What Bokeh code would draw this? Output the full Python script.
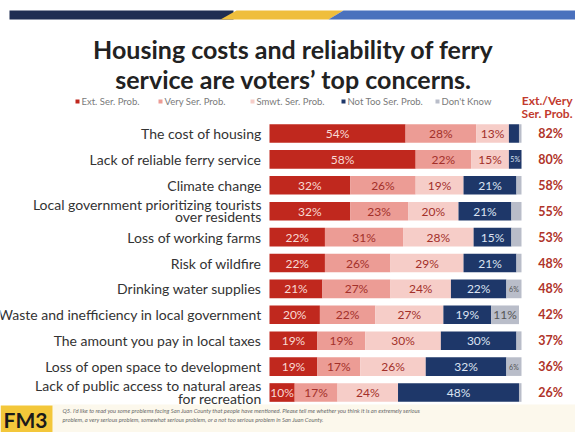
from bokeh.plotting import figure
from bokeh.models import Range1d, ColumnDataSource
from bokeh.core.properties import value
from bokeh.embed import file_html
from bokeh.resources import INLINE

# ---------------- data ----------------
categories = [
    "The cost of housing",
    "Lack of reliable ferry service",
    "Climate change",
    "Local government prioritizing tourists\nover residents",
    "Loss of working farms",
    "Risk of wildfire",
    "Drinking water supplies",
    "Waste and inefficiency in local government",
    "The amount you pay in local taxes",
    "Loss of open space to development",
    "Lack of public access to natural areas\nfor recreation",
]
ext_serious = [54, 58, 32, 32, 22, 22, 21, 20, 19, 19, 10]
very_serious = [28, 22, 26, 23, 31, 26, 27, 22, 19, 17, 17]
smwt_serious = [13, 15, 19, 20, 28, 29, 24, 27, 30, 26, 24]
not_too_serious = [4, 5, 21, 21, 15, 21, 22, 19, 30, 32, 48]
dont_know = [1, 0, 2, 4, 4, 2, 6, 11, 2, 6, 1]
ext_very_total = [82, 80, 58, 55, 53, 48, 48, 42, 37, 36, 26]
series_names = ["Ext. Ser. Prob.", "Very Ser. Prob.", "Smwt. Ser. Prob.",
                "Not Too Ser. Prob.", "Don't Know"]
total_header = ["Ext./Very", "Ser. Prob."]
title_lines = ["Housing costs and reliability of ferry",
               "service are voters\u2019 top concerns."]
footnote_lines = [
    "Q5. I'd like to read you some problems facing San Juan County that people have mentioned. Please tell me whether you think it is an extremely serious",
    "problem, a very serious problem, somewhat serious problem, or a not too serious problem in San Juan County.",
]

# ---------------- styles ----------------
series_colors = ["#C0281E", "#EC9C95", "#F6CDC8", "#1E3769", "#B9BDC9"]
label_colors = ["#F8DAD4", "#A3302A", "#A3302A", "#DCE3F2", "#555555"]
FONT = value("Lato")
W, H = 575, 432
X0, SX = 269.0, 2.52     # px of 0 %, px per %
Y0, SY = 133.0, 25.9     # px of first row, px per row


def dx(px):
    return (px - X0) / SX


def dy(py):
    return (py - Y0) / SY


p = figure(width=W, height=H, output_backend="svg", toolbar_location=None,
           x_axis_type=None, y_axis_type=None,
           x_range=Range1d(dx(0), dx(W)), y_range=Range1d(dy(H), dy(0)),
           min_border=0, background_fill_color="white",
           border_fill_color="white")
p.outline_line_color = None
p.grid.visible = False

n = len(categories)
rows = list(range(n))
series = [ext_serious, very_serious, smwt_serious, not_too_serious, dont_know]

# stacked bars
lefts = [0.0] * n
for k, vals in enumerate(series):
    rights = [l + v for l, v in zip(lefts, vals)]
    src = ColumnDataSource(dict(y=rows, left=lefts, right=rights))
    p.hbar(y="y", left="left", right="right", height=0.72, source=src,
           fill_color=series_colors[k], line_color=None)
    big = dict(x=[], y=[], t=[])
    small = dict(x=[], y=[], t=[])
    for i in rows:
        v = vals[i]
        if v < 5:
            continue
        if k == 3 and i == 0:
            continue
        target = small if v < 8 else big
        target["x"].append((lefts[i] + rights[i]) / 2)
        target["y"].append(i)
        target["t"].append(f"{v}%")
    p.text(x=big["x"], y=big["y"], text=big["t"], text_font=FONT,
           text_font_size="12px", text_align="center", text_baseline="middle",
           text_color=label_colors[k])
    p.text(x=small["x"], y=small["y"], text=small["t"], text_font=FONT,
           text_font_size="7px", text_align="center", text_baseline="middle",
           text_color=label_colors[k])
    lefts = rights

# category labels (split multi-line)
cx, cy, ct = [], [], []
for i, c in enumerate(categories):
    parts = c.split("\n")
    if len(parts) == 1:
        cx.append(dx(261)); cy.append(i); ct.append(c)
    else:
        cx += [dx(261), dx(261)]
        cy += [i - 0.27, i + 0.22]
        ct += parts
p.text(x=cx, y=cy, text=ct, text_font=FONT, text_font_size="14px",
       text_align="right", text_baseline="middle", text_color="#333333")

# totals column
p.text(x=[dx(550)] * n, y=rows, text=[f"{v}%" for v in ext_very_total],
       text_font=FONT, text_font_size="12.5px", text_font_style="bold",
       text_align="center", text_baseline="middle", text_color="#B0342A")
p.text(x=[dx(572)] * 2, y=[dy(100), dy(113)], text=total_header,
       text_font=FONT, text_font_size="12px", text_font_style="bold",
       text_align="right", text_baseline="middle", text_color="#C23A2E")

# legend
leg_x = [77, 160, 252, 343, 437]
p.rect(x=[dx(v) for v in leg_x], y=[dy(101)] * 5, width=4, height=4,
       width_units="screen", height_units="screen",
       fill_color=series_colors, line_color=None)
p.text(x=[dx(v + 4) for v in leg_x], y=[dy(101)] * 5, text=series_names,
       text_font=FONT, text_font_size="9.5px", text_align="left",
       text_baseline="middle", text_color="#7A7A7A")

# title
p.text(x=[dx(293), dx(293)], y=[dy(48), dy(78)], text=title_lines,
       text_font=FONT, text_font_size="25px", text_font_style="bold",
       text_align="center", text_baseline="alphabetic", text_color="#222222")

# banner
p.quad(left=[dx(9)], right=[dx(233)], top=[dy(10)], bottom=[dy(19)],
       fill_color="#1F2D52", line_color=None)
p.patch(x=[dx(220), dx(236), dx(343), dx(328)],
        y=[dy(19), dy(10), dy(10), dy(19)], fill_color="#EFBE3C", line_color=None)
p.patch(x=[dx(328), dx(343), dx(W), dx(W)],
        y=[dy(19), dy(10), dy(10), dy(19)], fill_color="#4A71BD", line_color=None)

# footer
p.quad(left=[dx(52)], right=[dx(W)], top=[dy(404)], bottom=[dy(H)],
       fill_color="#FCF8EC", line_color=None)
p.quad(left=[dx(0)], right=[dx(52)], top=[dy(405)], bottom=[dy(H)],
       fill_color="#F3C73A", line_color=None)
p.text(x=[dx(3)], y=[dy(419)], text=["FM3"], text_font=FONT,
       text_font_size="21px", text_font_style="bold", text_align="left",
       text_baseline="middle", text_color="#1A1A1A")
p.text(x=[dx(62), dx(62)], y=[dy(410), dy(419)], text=footnote_lines,
       text_font=FONT, text_font_size="5.8px", text_font_style="italic",
       text_align="left", text_baseline="middle", text_color="#6A6A6A")

open("out.html", "w").write(file_html(p, INLINE))
